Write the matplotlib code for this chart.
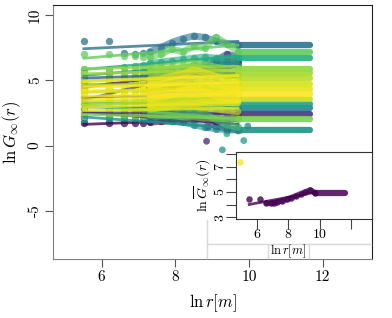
import numpy as np
import matplotlib.pyplot as plt
from matplotlib import cm
from matplotlib.lines import Line2D

plt.rcParams['font.family'] = 'serif'
plt.rcParams['font.serif'] = ['cmr10', 'DejaVu Serif']
plt.rcParams['mathtext.fontset'] = 'cm'
plt.rcParams['axes.unicode_minus'] = False

# distance bins (ln r) shared by every curve
ln_r = [5.52, 6.21, 6.62, 6.91, 7.13, 7.31, 7.6, 7.9, 8.2, 8.5, 8.8, 9.1, 9.4, 9.7]
plateau_end = 11.65

# viridis position of each curve (drawing order)
shade = [0.00, 0.05, 0.10, 0.15, 0.20, 0.25, 0.30, 0.38, 0.45, 0.50, 0.53, 0.57, 0.62,
         0.66, 0.70, 0.76, 0.80, 0.83, 0.86, 0.89, 0.90, 0.91, 0.93, 0.94, 0.95,
         0.96, 0.97, 0.98, 0.99, 1.00, 1.00]

curves = [
    [1.7, 1.7, 1.7, 1.75, 1.7, 1.8, 1.85, 1.9, 1.9, 2.0, 2.1, 1.9, 2.0, 2.1],
    [4.9, 4.9, 4.9, 4.95, 5.0, 5.0, 5.0, 5.05, 5.1, 5.3, 5.6, 6.0, 6.4, 6.4],
    [2.2, 2.2, 2.2, 2.25, 2.3, 2.3, 2.35, 2.4, 2.4, 2.3, 2.0, 1.5, 1.3, 1.2],
    [2.5, 2.5, 2.5, 2.5, 2.55, 2.5, 2.5, 2.5, 2.45, 2.45, 2.4, 2.4, 2.45, 2.45],
    [4.3, 4.3, 4.3, 4.35, 4.4, 4.4, 4.5, 4.6, 4.8, 5.3, 5.8, 6.5, 7.0, 6.8],
    [3.7, 3.7, 3.7, 3.75, 3.8, 3.8, 3.8, 3.9, 3.9, 4.0, 4.0, 3.9, 3.8, 3.8],
    [5.2, 5.2, 5.2, 5.25, 5.3, 5.3, 5.35, 5.4, 5.5, 5.6, 5.6, 5.5, 5.4, 5.4],
    [8.0, 8.0, 7.1, 7.0, 7.1, 7.2, 7.5, 7.9, 8.2, 8.4, 8.3, 8.0, 7.8, 7.7],
    [2.9, 2.9, 2.9, 2.95, 3.0, 3.0, 3.0, 3.0, 2.95, 2.9, 2.9, 2.9, 2.9, 2.9],
    [1.9, 1.9, 1.9, 1.95, 2.0, 2.0, 2.0, 1.9, 1.8, 1.6, 1.4, 1.3, 1.2, 1.2],
    [5.6, 5.6, 5.6, 5.6, 5.65, 5.7, 5.7, 5.8, 5.9, 6.1, 6.3, 6.5, 6.3, 6.2],
    [3.2, 3.2, 3.2, 3.25, 3.3, 3.3, 3.3, 3.3, 3.3, 3.25, 3.2, 3.2, 3.2, 3.2],
    [5.9, 5.9, 6.0, 6.1, 6.2, 6.3, 6.4, 6.5, 6.6, 6.7, 6.8, 6.7, 6.7, 6.7],
    [4.6, 4.6, 4.6, 4.65, 4.7, 4.7, 4.8, 4.9, 5.0, 5.0, 4.9, 4.8, 4.6, 4.5],
    [2.7, 2.7, 2.7, 2.7, 2.75, 2.8, 2.8, 2.8, 2.7, 2.6, 2.4, 2.0, 1.6, 1.4],
    [7.0, 7.0, 6.9, 6.9, 6.8, 6.8, 7.0, 7.4, 7.2, 7.6, 7.5, 8.3, 7.8, 7.2],
    [2.3, 2.3, 2.3, 2.3, 2.3, 2.35, 2.3, 2.3, 2.2, 2.2, 2.1, 2.1, 2.05, 2.05],
    [5.9, 5.9, 5.9, 5.9, 5.9, 5.95, 6.0, 6.1, 6.2, 6.3, 6.2, 6.0, 5.9, 5.9],
    [5.5, 5.5, 5.5, 5.5, 5.55, 5.6, 5.7, 5.8, 5.9, 6.0, 5.9, 5.7, 5.6, 5.56],
    [5.0, 5.0, 5.0, 5.0, 5.05, 5.1, 5.2, 5.3, 5.4, 5.5, 5.4, 5.3, 5.2, 5.2],
    [3.1, 3.1, 3.1, 3.15, 3.2, 3.3, 3.4, 3.6, 3.8, 3.7, 3.5, 3.4, 3.3, 3.3],
    [3.4, 3.4, 3.4, 3.4, 3.45, 3.5, 3.5, 3.6, 3.6, 3.6, 3.6, 3.6, 3.6, 3.59],
    [4.0, 4.0, 4.0, 4.05, 4.1, 4.2, 4.3, 4.5, 4.7, 4.6, 4.4, 4.2, 4.1, 4.0],
    [4.6, 4.6, 4.6, 4.6, 4.65, 4.7, 4.7, 4.8, 4.8, 4.9, 4.8, 4.8, 4.75, 4.74],
    [2.6, 2.6, 2.6, 2.65, 2.7, 2.8, 2.9, 3.0, 3.1, 3.0, 2.9, 2.8, 2.7, 2.6],
    [4.2, 4.2, 4.2, 4.2, 4.25, 4.3, 4.3, 4.4, 4.4, 4.4, 4.4, 4.4, 4.36, 4.36],
    [4.9, 4.9, 4.9, 4.9, 4.95, 5.0, 5.1, 5.3, 5.5, 5.8, 5.6, 5.3, 5.0, 4.9],
    [3.0, 3.0, 3.0, 3.0, 3.05, 3.1, 3.1, 3.1, 3.2, 3.2, 3.3, 3.3, 3.3, 3.3],
    [3.5, 3.5, 3.5, 3.5, 3.55, 3.6, 3.7, 3.9, 4.2, 4.3, 4.1, 3.8, 3.6, 3.5],
    [3.8, 3.8, 3.8, 3.8, 3.85, 3.9, 3.9, 4.0, 4.0, 4.0, 4.0, 4.0, 3.97, 3.97],
    [4.4, 4.4, 4.4, 4.45, 4.5, 4.6, 4.7, 4.9, 5.1, 5.2, 5.0, 4.7, 4.5, 4.4],
]

# level at which a curve runs flat out to the largest distances (None = stops)
plateau = [None, None, None, 2.44, None, None, None, 7.7, 2.9, 1.2, None, 3.2, 6.7,
           None, None, 7.18, 2.05, 5.9, 5.56, 5.2, None, 3.59, None, 4.74, None,
           4.36, None, None, None, 3.97, None]

# isolated points below the main cloud
stray_x = [8.85, 9.28, 9.86, 8.9, 9.4, 9.75, 9.97]
stray_y = [0.33, -0.33, 0.38, 1.4, 0.9, 1.15, 1.5]
stray_c = [0.10, 0.50, 0.55, 0.10, 0.60, 0.70, 0.45]

# inset: averaged curve
mean_curve = [4.4, 4.45, 4.1, 4.1, 4.15, 4.2, 4.3, 4.4, 4.55, 4.7, 4.85, 5.0, 5.15, 4.95]
mean_plateau = 4.9
inset_dot = (4.95, 7.35)

fig = plt.figure(figsize=(3.92, 3.18), dpi=100)
ax = fig.add_axes([0.135, 0.1855, 0.814, 0.7985])

x = np.array(ln_r)
for c, vals, lvl in zip(shade, curves, plateau):
    col = cm.viridis(c)
    y = np.array(vals)
    coef = np.polyfit(x, y, 1)
    ax.scatter(x, y, s=28, color=col, alpha=0.75, linewidths=0)
    ax.plot(x[5:], y[5:], color=col, lw=5, alpha=0.6, solid_capstyle='round')
    ax.plot([x[0], x[-1]], np.polyval(coef, [x[0], x[-1]]), color=col, lw=2, alpha=0.8)
    if lvl is not None:
        ax.plot([x[-1], plateau_end], [lvl, lvl], color=col, lw=4.5, alpha=0.9,
                solid_capstyle='round')
ax.scatter(stray_x, stray_y, s=24, color=cm.viridis(np.array(stray_c)), alpha=0.75, linewidths=0)

ax.set_xlim(4.68, 13.34)
ax.set_ylim(-8.7, 10.77)
ax.set_xticks([6, 8, 10, 12])
ax.set_xticklabels(['6', '8', '10', '12'])
ax.set_yticks([10, 5, 0, -5])
ax.set_yticklabels(['10', '5', '0', '-5'], rotation=90, va='center')
for s in ['left', 'bottom']:
    ax.spines[s].set_color('#808080')
for s in ['top', 'right']:
    ax.spines[s].set_color('#222222')
ax.tick_params(length=6, color='#555555', labelsize=11, pad=2)
ax.set_xlabel(r'$\ln r[m]$', fontsize=12, labelpad=6)
ax.set_ylabel(r'$\ln G_\infty(r)$', fontsize=12, labelpad=4)

# inset
ax2 = fig.add_axes([0.602, 0.311, 0.347, 0.211])
ax2.set_facecolor('white')
dark = cm.viridis(0.0)
coef = np.polyfit(x, mean_curve, 1)
ax2.scatter(x, mean_curve, s=22, color=dark, alpha=0.8, linewidths=0)
ax2.plot(x[2:], mean_curve[2:], color=dark, lw=4, alpha=0.7, solid_capstyle='round')
ax2.plot([x[0], x[-1]], np.polyval(coef, [x[0], x[-1]]), color=dark, lw=2, alpha=0.8)
ax2.plot([x[-1], plateau_end], [mean_plateau, mean_plateau], color=dark, lw=4.5, alpha=0.85,
         solid_capstyle='round')
ax2.scatter([inset_dot[0]], [inset_dot[1]], s=22, color=cm.viridis(1.0), alpha=0.8, linewidths=0)
ax2.set_xlim(4.68, 13.34)
ax2.set_ylim(2.85, 8.15)
ax2.set_xticks([6, 8, 10, 12])
ax2.set_xticklabels(['6', '8', '10', ''])
ax2.set_yticks([3, 4, 5, 6, 7, 8])
ax2.set_yticklabels(['3', '', '5', '', '7', ''], rotation=90, va='center')
ax2.tick_params(length=7, color='#444444', labelsize=10, pad=0)
for s in ax2.spines.values():
    s.set_color('#333333')
ax2.set_ylabel(r'$\ln \overline{G}_\infty(r)$', fontsize=10, labelpad=1)

# light frame under the inset
grey = '#d9d9d9'
fig.add_artist(Line2D([207/392, 207/392], [1-220/318, 1-258/318], color=grey, lw=1))
fig.add_artist(Line2D([207/392, 371/392], [1-244/318, 1-244/318], color=grey, lw=1))
fig.add_artist(Line2D([268/392, 268/392], [1-244/318, 1-258/318], color=grey, lw=1))
fig.add_artist(Line2D([309/392, 309/392], [1-244/318, 1-258/318], color=grey, lw=1))
fig.text(288/392, 1-251.5/318, r'$\ln r[m]$', fontsize=9, ha='center', va='center')

fig.savefig('out.png', dpi=100)
